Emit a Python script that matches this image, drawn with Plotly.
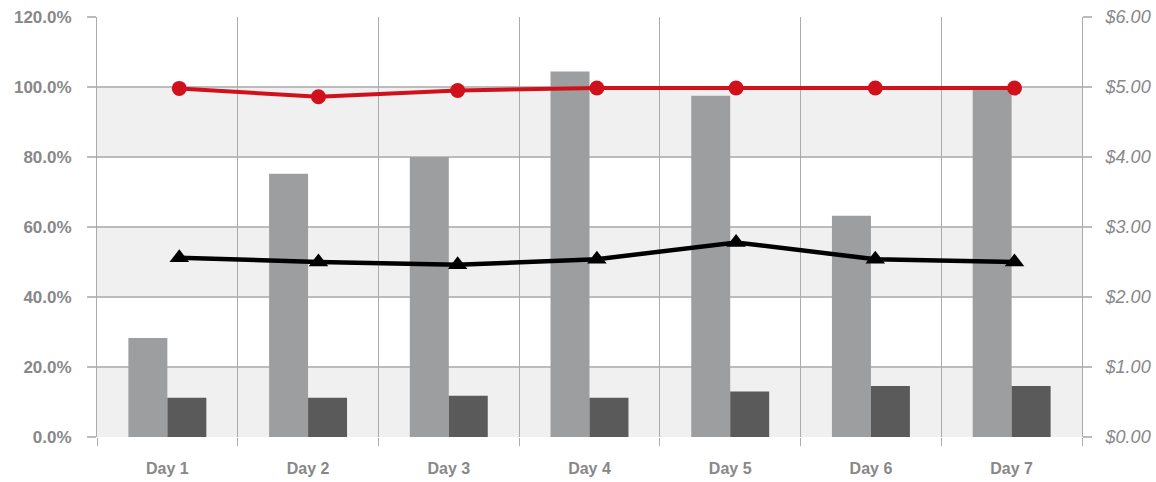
import plotly.graph_objects as go

# ---- data ----
days = ["Day 1", "Day 2", "Day 3", "Day 4", "Day 5", "Day 6", "Day 7"]
pct_bars = [28.3, 75.2, 80.0, 104.4, 97.5, 63.2, 100.0]     # left axis, %
usd_bars = [0.56, 0.56, 0.59, 0.56, 0.65, 0.73, 0.73]        # right axis, $
pct_line = [99.6, 97.2, 99.0, 99.7, 99.7, 99.7, 99.7]        # left axis, %
usd_line = [2.56, 2.50, 2.46, 2.54, 2.78, 2.54, 2.50]        # right axis, $
left_ticks = [0, 20, 40, 60, 80, 100, 120]
right_ticks = [0, 1, 2, 3, 4, 5, 6]
left_labels = [f"{v:.1f}%" for v in left_ticks]
right_labels = [f"${v:.2f}" for v in right_ticks]

idx = list(range(len(days)))
bounds = [i - 0.5 for i in range(len(days) + 1)]

GRID = "#bcbcbc"
VGRID = "#ababab"
TXT = "#888889"
FONT = "Liberation Sans, Arial, sans-serif"
bar_w = 0.277

fig = go.Figure()

fig.add_trace(go.Bar(x=idx, y=pct_bars, width=bar_w, offset=-bar_w,
                     marker=dict(color="#9d9ea0", line=dict(width=0)),
                     xaxis="x", yaxis="y", name="pct"))
fig.add_trace(go.Bar(x=idx, y=usd_bars, width=bar_w, offset=0,
                     marker=dict(color="#5a5a5a", line=dict(width=0)),
                     xaxis="x", yaxis="y2", name="usd"))
# invisible trace so the boundary grid axis is drawn
fig.add_trace(go.Scatter(x=[bounds[0]], y=[0], mode="markers",
                         marker=dict(opacity=0), xaxis="x2", yaxis="y",
                         hoverinfo="skip", showlegend=False))
fig.add_trace(go.Scatter(x=idx, y=pct_line, mode="lines+markers",
                         line=dict(color="#d0111b", width=4),
                         marker=dict(symbol="circle", size=15, color="#d0111b"),
                         xaxis="x3", yaxis="y", name="pct line"))
fig.add_trace(go.Scatter(x=idx, y=usd_line, mode="lines+markers",
                         line=dict(color="#000000", width=4.5),
                         marker=dict(symbol="triangle-up", size=17, color="#000000"),
                         xaxis="x3", yaxis="y2", name="usd line"))

# alternating horizontal bands
shapes = []
for lo in left_ticks[:-1:2]:
    shapes.append(dict(type="rect", xref="paper", yref="y", x0=0, x1=1,
                       y0=lo, y1=lo + 20, fillcolor="#f0f0f0",
                       line=dict(width=0), layer="below"))

fig.update_layout(
    width=1156, height=482,
    margin=dict(l=97, r=74, t=17, b=45, autoexpand=False),
    paper_bgcolor="white", plot_bgcolor="white",
    showlegend=False, barmode="overlay",
    shapes=shapes,
    xaxis=dict(range=[-0.5, 6.5], tickmode="array", tickvals=idx, ticktext=days,
               showgrid=False, zeroline=False, showline=False, ticks="",
               automargin=False, ticklabelstandoff=20,
               tickfont=dict(family=FONT, size=16, color=TXT, weight="bold")),
    xaxis2=dict(range=[-0.5, 6.5], overlaying="x", anchor="y",
                tickmode="array", tickvals=bounds, showticklabels=False,
                showgrid=True, automargin=False,
                gridcolor=VGRID, gridwidth=1, ticks="outside", ticklen=8,
                tickcolor=VGRID, tickwidth=1, zeroline=False, showline=False),
    xaxis3=dict(range=[-0.591, 6.485], overlaying="x", anchor="y",
                visible=False),
    yaxis=dict(range=[0, 120], tickmode="array", tickvals=left_ticks,
               ticktext=left_labels, automargin=False,
               showgrid=True, gridcolor=GRID, gridwidth=1.5,
               zeroline=False, showline=True, linecolor=VGRID, linewidth=1,
               ticks="outside", ticklen=9, tickcolor=GRID, tickwidth=1.5,
               ticklabelstandoff=12,
               tickfont=dict(family=FONT, size=17, color=TXT, weight="bold")),
    yaxis2=dict(range=[0, 6], tickmode="array", tickvals=right_ticks,
                ticktext=right_labels, automargin=False,
                overlaying="y", side="right", anchor="x",
                showgrid=False, zeroline=False, showline=True,
                linecolor=VGRID, linewidth=1,
                ticks="outside", ticklen=9, tickcolor=GRID, tickwidth=1.5,
                ticklabelstandoff=10,
                tickfont=dict(family=FONT, size=18, color=TXT, style="italic")),
)

fig.write_html("out.html")
